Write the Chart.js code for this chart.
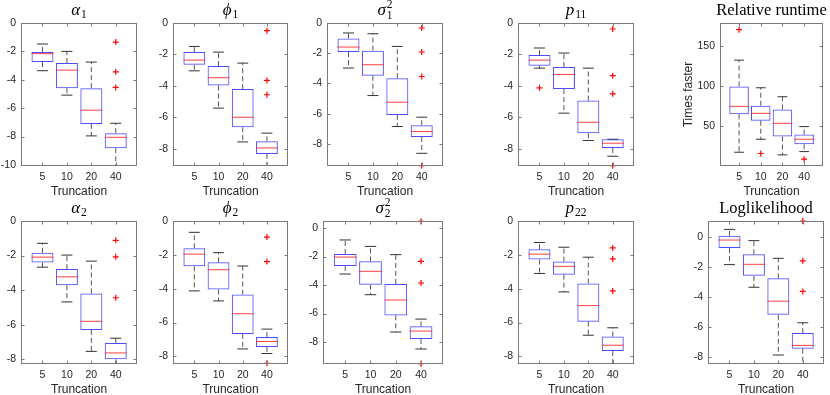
<!DOCTYPE html>
<html>
<head>
<meta charset="utf-8">
<script src="https://cdn.jsdelivr.net/npm/chart.js@4.4.0/dist/chart.umd.min.js"></script>
<style>
  html, body { margin: 0; padding: 0; background: #fff; }
  body { width: 830px; height: 395px; position: relative; overflow: hidden; }
  canvas { position: absolute; }
</style>
</head>
<body>
<script>
const truncations = ['5', '10', '20', '40'];

// one row per truncation: [lower whisker, q1, median, q3, upper whisker]
const alpha1 = [[-3.36, -2.75, -2.16, -2.05, -1.48], [-5.08, -4.59, -3.32, -2.82, -2.0], [-7.95, -7.11, -6.14, -4.59, -2.75], [-10.05, -8.82, -8.05, -7.76, -7.06]];
const alpha1Out = [[], [], [], [-1.34, -3.44, -4.54]];

const phi1 = [[-3.04, -2.65, -2.36, -1.85, -1.49], [-5.41, -3.97, -3.48, -2.74, -1.85], [-7.56, -6.62, -5.99, -4.2, -2.55], [-9.07, -8.32, -7.94, -7.52, -7.0]];
const phi1Out = [[], [], [], [-0.49, -3.65, -4.56]];

const sigma1 = [[-2.98, -1.92, -1.59, -1.02, -0.66], [-4.8, -3.49, -2.76, -1.83, -0.71], [-6.85, -6.08, -5.24, -3.65, -1.55], [-8.62, -7.54, -7.18, -6.76, -6.23]];
const sigma1Out = [[], [], [], [-0.33, -1.92, -3.54, -9.44]];

const p11 = [[-2.87, -2.72, -2.36, -2.04, -1.59], [-5.73, -4.2, -3.27, -2.8, -1.91], [-7.47, -7.01, -6.31, -4.93, -2.87], [-8.47, -7.94, -7.64, -7.39, -7.39]];
const p11Out = [[-4.12], [], [], [-0.38, -3.35, -4.5, -9.07]];

const runtime = [[17.2, 64.5, 74.5, 99.4, 132.2], [33.4, 56.6, 65.8, 75.3, 97.7], [13.9, 36.7, 53.3, 70.7, 86.5], [18.0, 27.2, 33.4, 39.2, 49.2]];
const runtimeOut = [[170.3], [15.6], [], [8.5]];

const alpha2 = [[-2.67, -2.4, -2.09, -1.84, -1.29], [-4.68, -3.71, -3.23, -2.78, -1.97], [-7.54, -6.3, -5.8, -4.19, -2.32], [-8.27, -8.0, -7.63, -7.05, -6.78]];
const alpha2Out = [[], [], [], [-1.12, -2.07, -4.44]];

const phi2 = [[-4.13, -2.68, -1.96, -1.61, -0.67], [-4.72, -4.05, -2.88, -2.44, -1.87], [-7.56, -6.67, -5.48, -4.35, -2.66], [-7.83, -7.44, -7.12, -6.85, -6.39]];
const phi2Out = [[], [], [], [-0.95, -2.4, -8.41]];

const sigma2 = [[-3.23, -2.67, -2.04, -1.82, -0.84], [-4.68, -3.98, -3.04, -2.34, -1.29], [-7.3, -6.13, -5.05, -3.93, -1.87], [-8.49, -7.79, -7.23, -6.9, -6.39]];
const sigma2Out = [[], [], [], [0.47, -2.34, -3.86, -9.52]];

const p22 = [[-3.1, -2.28, -1.96, -1.67, -1.27], [-4.19, -3.17, -2.68, -2.4, -1.55], [-6.75, -5.95, -5.0, -3.69, -2.14], [-8.45, -7.68, -7.34, -6.83, -6.31]];
const p22Out = [[], [], [], [-1.59, -2.24, -4.13]];

const loglik = [[-1.82, -0.71, -0.18, 0.11, 0.53], [-3.33, -2.57, -1.8, -1.13, -0.22], [-7.85, -5.17, -4.26, -2.73, -1.4], [-8.45, -7.43, -7.21, -6.39, -5.7]];
const loglikOut = [[], [], [], [1.09, -1.57, -3.61]];

const ticks10 = [0, -2, -4, -6, -8, -10];
const ticks8 = [0, -2, -4, -6, -8];
const runtimeTicks = [50, 100, 150];

// plot area of each panel in page pixels: l, t, r, b
const panels = [
  {stats: alpha1, out: alpha1Out, title: {base: 'α', sub: '1'}, yMin: -10.07, yMax: 0, yTicks: ticks10, box: [21, 23, 137, 166]},
  {stats: phi1, out: phi1Out, title: {base: 'ϕ', sub: '1'}, yMin: -9.09, yMax: 0, yTicks: ticks8, box: [173, 23, 288, 166]},
  {stats: sigma1, out: sigma1Out, title: {base: 'σ', sub: '1', sup: '2'}, yMin: -9.46, yMax: 0, yTicks: ticks8, box: [327, 23, 443, 166]},
  {stats: p11, out: p11Out, title: {base: 'p', sub: '11'}, yMin: -9.09, yMax: 0, yTicks: ticks8, box: [518, 23, 634, 166]},
  {stats: runtime, out: runtimeOut, title: {text: 'Relative runtime'}, yMin: 0, yMax: 178.6, yTicks: runtimeTicks, yTitle: 'Times faster', box: [720, 23, 823, 166]},
  {stats: alpha2, out: alpha2Out, title: {base: 'α', sub: '2'}, yMin: -8.27, yMax: 0, yTicks: ticks8, box: [21, 221, 137, 364]},
  {stats: phi2, out: phi2Out, title: {base: 'ϕ', sub: '2'}, yMin: -8.45, yMax: 0, yTicks: ticks8, box: [173, 221, 288, 364]},
  {stats: sigma2, out: sigma2Out, title: {base: 'σ', sub: '2', sup: '2'}, yMin: -9.54, yMax: 0.49, yTicks: ticks8, box: [323, 221, 443, 364]},
  {stats: p22, out: p22Out, title: {base: 'p', sub: '22'}, yMin: -8.45, yMax: 0, yTicks: ticks8, box: [518, 221, 634, 364]},
  {stats: loglik, out: loglikOut, title: {text: 'Loglikelihood'}, yMin: -8.45, yMax: 1.09, yTicks: ticks8, box: [708, 221, 824, 364]}
];

const YW = 40, PT = 23, PR = 6, XH = 33;
const BLUE = 'rgba(30,30,255,0.8)';
const RED = 'rgba(255,30,30,0.85)';
const TXT = '#262626';

const unitPx = chart => chart.scales.x.getPixelForValue(2) - chart.scales.x.getPixelForValue(1);

const titlePlugin = {
  id: 'mathTitle',
  afterDraw(chart, args, opts) {
    const t = opts.spec;
    if (!t) return;
    const ctx = chart.ctx, a = chart.chartArea;
    const cx = (a.left + a.right) / 2, y = a.top - 8.5;
    ctx.save();
    ctx.fillStyle = '#000';
    ctx.textBaseline = 'alphabetic';
    if (t.text) {
      ctx.font = '16.5px "Liberation Serif"';
      ctx.textAlign = 'center';
      ctx.fillText(t.text, cx, y);
    } else {
      const big = 'italic 17px "Liberation Serif"', small = '11.5px "Liberation Serif"';
      ctx.font = big;
      const wb = ctx.measureText(t.base).width;
      ctx.font = small;
      const ws = Math.max(ctx.measureText(t.sub || '').width, ctx.measureText(t.sup || '').width);
      let x = cx - (wb + ws + 1) / 2;
      ctx.textAlign = 'left';
      ctx.font = big;
      ctx.fillText(t.base, x, y);
      x += wb + 1;
      ctx.font = small;
      if (t.sub) ctx.fillText(t.sub, x, y + (t.sup ? 4 : 3.5));
      if (t.sup) ctx.fillText(t.sup, x, y - 7);
    }
    ctx.restore();
  }
};

const framePlugin = {
  id: 'frame',
  afterDatasetsDraw(chart) {
    const {ctx, chartArea: a, scales: {x, y}} = chart;
    const L = a.left + 0.5, R = a.right - 0.5, T = a.top + 0.5, B = a.bottom - 0.5;
    ctx.save();
    ctx.strokeStyle = '#7a7a7a';
    ctx.lineWidth = 1;
    ctx.strokeRect(L, T, R - L, B - T);
    const tl = 3;
    ctx.beginPath();
    x.ticks.forEach(t => {
      const px = Math.round(x.getPixelForValue(t.value)) + 0.5;
      ctx.moveTo(px, B); ctx.lineTo(px, B - tl);
      ctx.moveTo(px, T); ctx.lineTo(px, T + tl);
    });
    y.ticks.forEach(t => {
      const py = Math.round(y.getPixelForValue(t.value)) + 0.5;
      ctx.moveTo(L, py); ctx.lineTo(L + tl, py);
      ctx.moveTo(R, py); ctx.lineTo(R - tl, py);
    });
    ctx.stroke();
    ctx.restore();
  }
};

function makeDatasets(stats, out) {
  const whiskers = [];
  const caps = [];
  stats.forEach((s, i) => {
    whiskers.push({x: i + 1, y: s[3]}, {x: i + 1, y: s[4]}, {x: i + 1, y: null});
    whiskers.push({x: i + 1, y: s[1]}, {x: i + 1, y: s[0]}, {x: i + 1, y: null});
    caps.push({x: i + 1, y: s[0]}, {x: i + 1, y: s[4]});
  });
  const outliers = [];
  out.forEach((list, i) => list.forEach(v => outliers.push({x: i + 1, y: v})));
  return [
    {
      type: 'scatter',
      data: stats.map((s, i) => ({x: i + 1, y: s[2]})),
      pointStyle: 'line',
      pointRadius: c => unitPx(c.chart) * 0.45,
      pointBorderColor: RED,
      pointBorderWidth: 1
    },
    {
      type: 'scatter',
      data: outliers,
      pointStyle: 'cross',
      pointRadius: 3,
      pointBorderColor: 'rgb(255,0,0)',
      pointBorderWidth: 1.2,
      clip: false
    },
    {
      type: 'bar',
      data: stats.map((s, i) => ({x: i + 1, y: [s[1], s[3]]})),
      backgroundColor: 'rgba(0,0,0,0)',
      borderColor: BLUE,
      borderWidth: 1,
      borderSkipped: false,
      inflateAmount: 0,
      barPercentage: 0.9,
      categoryPercentage: 1
    },
    {
      type: 'scatter',
      data: caps,
      pointStyle: 'line',
      pointRadius: c => unitPx(c.chart) * 0.225,
      pointBorderColor: '#333',
      pointBorderWidth: 1
    },
    {
      type: 'line',
      data: whiskers,
      borderColor: '#555',
      borderWidth: 1,
      borderDash: [5, 3],
      pointRadius: 0,
      spanGaps: false
    }
  ];
}

panels.forEach(p => {
  const [l, t, r, b] = p.box;
  const canvas = document.createElement('canvas');
  const w = r - l + YW + PR, h = b - t + PT + XH;
  canvas.width = w;
  canvas.height = h;
  canvas.style.left = (l - YW) + 'px';
  canvas.style.top = (t - PT) + 'px';
  canvas.style.width = w + 'px';
  canvas.style.height = h + 'px';
  document.body.appendChild(canvas);

  new Chart(canvas, {
    type: 'scatter',
    data: {datasets: makeDatasets(p.stats, p.out)},
    options: {
      responsive: false,
      animation: false,
      events: [],
      layout: {padding: {top: PT, right: PR, left: 0, bottom: 0}},
      plugins: {
        legend: {display: false},
        tooltip: {enabled: false},
        mathTitle: {spec: p.title}
      },
      scales: {
        x: {
          type: 'linear',
          min: 0.12,
          max: 4.87,
          offset: false,
          afterBuildTicks: s => { s.ticks = truncations.map((_, i) => ({value: i + 1})); },
          afterFit: s => { s.height = XH; },
          grid: {display: false, drawTicks: false},
          border: {display: false},
          ticks: {
            autoSkip: false,
            maxRotation: 0,
            padding: 5,
            color: TXT,
            font: {family: 'Liberation Sans', size: 10.5},
            callback: (v, i) => truncations[i]
          },
          title: {
            display: true,
            text: 'Truncation',
            color: TXT,
            font: {family: 'Liberation Sans', size: 12},
            padding: {top: 0, bottom: 0}
          }
        },
        y: {
          type: 'linear',
          min: p.yMin,
          max: p.yMax,
          afterBuildTicks: s => { s.ticks = p.yTicks.map(v => ({value: v})); },
          afterFit: s => { s.width = YW; },
          grid: {display: false, drawTicks: false},
          border: {display: false},
          ticks: {
            padding: 5,
            color: TXT,
            font: {family: 'Liberation Sans', size: 10.5},
            callback: v => String(v)
          },
          title: {
            display: !!p.yTitle,
            text: p.yTitle || '',
            color: TXT,
            font: {family: 'Liberation Sans', size: 12},
            padding: {top: 1.5, bottom: 0}
          }
        }
      }
    },
    plugins: [titlePlugin, framePlugin]
  });
});
</script>
</body>
</html>
